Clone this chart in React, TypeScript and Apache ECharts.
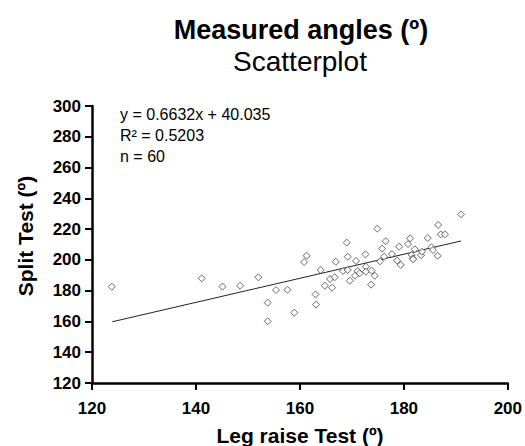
import React, { useEffect, useRef } from "react";
import * as echarts from "echarts";

const legRaise = [
  123.8, 141.1, 145.1, 148.5, 152.0, 153.8, 153.8, 155.4,
  157.6, 158.9, 160.8, 161.3, 163.0, 163.1, 164.0, 164.8, 165.8, 166.2,
  166.7, 166.9, 168.3, 169.0, 169.2, 169.2, 169.6, 170.6, 170.8, 171.1,
  171.5, 172.6, 172.7, 172.7, 173.7, 173.8, 174.4, 174.9, 175.4, 175.8,
  176.2, 176.5, 177.7, 178.7, 179.1, 179.4, 180.8, 181.2, 181.5, 181.7,
  181.8, 182.1, 183.3, 183.5, 184.6, 185.3, 185.6, 186.5, 186.6, 187.1,
  187.9, 191.0,
];
const splitTest = [
  182.6, 188.0, 182.6, 183.2, 188.7, 172.2, 160.1, 180.4,
  180.6, 165.7, 198.6, 202.7, 177.6, 170.9, 193.4, 183.2, 187.6, 181.9,
  188.7, 198.8, 192.8, 211.2, 202.1, 193.4, 186.5, 189.7, 199.3, 192.8,
  191.3, 203.6, 195.6, 192.3, 183.9, 193.0, 189.7, 220.3, 199.1, 207.3,
  202.1, 212.1, 203.8, 199.5, 208.6, 196.7, 210.3, 214.0, 203.2, 201.0,
  200.4, 206.9, 203.0, 205.3, 214.2, 208.2, 206.4, 202.7, 222.7, 216.6,
  216.6, 229.6,
];
const fitLineX = [123.9, 191.0];
const fitLineY = [159.8, 212.3];
const annotations = ["y = 0.6632x + 40.035", "R² = 0.5203", "n = 60"];
const titleText = "Measured angles (º)";
const subtitleText = "Scatterplot";
const xName = "Leg raise Test (º)";
const yName = "Split Test (º)";

const FONT = "'Liberation Sans', Arial, Helvetica, sans-serif";

export default function App() {
  const ref = useRef<HTMLDivElement>(null);
  useEffect(() => {
    if (!ref.current) return;
    const chart = echarts.init(ref.current, null, { renderer: "svg" });
    const points = legRaise.map((x, i) => [x, splitTest[i]]);
    const line = fitLineX.map((x, i) => [x, fitLineY[i]]);
    chart.setOption({
      animation: false,
      backgroundColor: "#ffffff",
      textStyle: { fontFamily: FONT },
      grid: { left: 92, right: 17, top: 106, bottom: 63, containLabel: false },
      xAxis: {
        type: "value",
        min: 120,
        max: 200,
        interval: 20,
        splitLine: { show: false },
        axisLine: { show: true, onZero: false, lineStyle: { color: "#000", width: 2.5 } },
        axisTick: { show: true, length: 7, lineStyle: { color: "#000", width: 2 } },
        axisLabel: {
          color: "#000",
          fontSize: 17,
          fontWeight: "bold",
          fontFamily: FONT,
          margin: 17,
        },
      },
      yAxis: {
        type: "value",
        min: 120,
        max: 300,
        interval: 20,
        splitLine: { show: false },
        axisLine: { show: true, onZero: false, lineStyle: { color: "#000", width: 2.5 } },
        axisTick: { show: true, length: 7, lineStyle: { color: "#000", width: 2 } },
        axisLabel: {
          color: "#000",
          fontSize: 17,
          fontWeight: "bold",
          fontFamily: FONT,
          margin: 11,
        },
      },
      graphic: [
        {
          type: "text",
          x: 301,
          y: 30,
          style: {
            text: titleText,
            fontSize: 27,
            fontWeight: "bold",
            fontFamily: FONT,
            fill: "#000",
            align: "center",
            verticalAlign: "middle",
          },
        },
        {
          type: "text",
          x: 300,
          y: 61,
          style: {
            text: subtitleText,
            fontSize: 28,
            fontFamily: FONT,
            fill: "#000",
            align: "center",
            verticalAlign: "middle",
          },
        },
        {
          type: "text",
          x: 300,
          y: 435,
          style: {
            text: xName,
            fontSize: 21,
            fontWeight: "bold",
            fontFamily: FONT,
            fill: "#000",
            align: "center",
            verticalAlign: "middle",
          },
        },
        {
          type: "text",
          x: 25,
          y: 236,
          rotation: Math.PI / 2,
          style: {
            text: yName,
            fontSize: 21,
            fontWeight: "bold",
            fontFamily: FONT,
            fill: "#000",
            align: "center",
            verticalAlign: "middle",
          },
        },
        ...annotations.map((t, i) => ({
          type: "text",
          x: 120,
          y: 114 + i * 21,
          style: {
            text: t,
            fontSize: 16,
            fontFamily: FONT,
            fill: "#000",
            align: "left",
            verticalAlign: "middle",
          },
        })),
      ],
      series: [
        {
          type: "line",
          data: line,
          showSymbol: false,
          symbol: "none",
          lineStyle: { color: "#222", width: 1 },
          silent: true,
          z: 1,
        },
        {
          type: "scatter",
          data: points,
          symbol: "diamond",
          symbolSize: 7,
          itemStyle: { color: "#ffffff", borderColor: "#444", borderWidth: 1 },
          z: 2,
        },
      ],
    });
    return () => chart.dispose();
  }, []);
  return (
    <div
      ref={ref}
      style={{ position: "fixed", left: 0, top: 0, width: 525, height: 446 }}
    />
  );
}
